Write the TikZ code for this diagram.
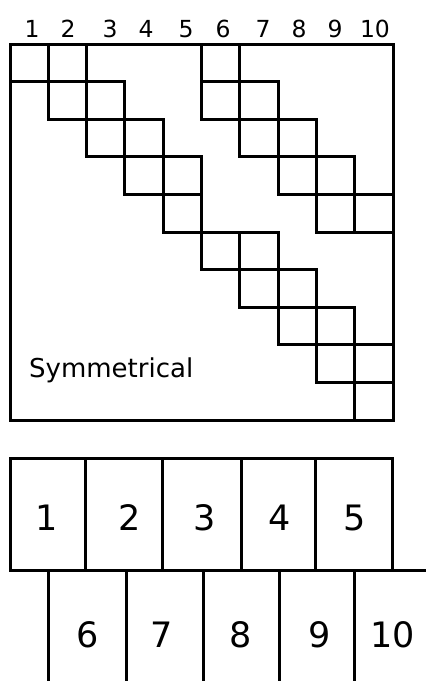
\documentclass[tikz,border=0pt]{standalone}
\usepackage{fontspec}
\setmainfont{DejaVu Sans}
\begin{document}
\begin{tikzpicture}[x=1pt,y=-1pt,
  ln/.style={line width=3pt,line cap=rect,line join=miter},
  toplab/.style={anchor=base,inner sep=0pt,font=\fontsize{23.5}{25}\selectfont},
  biglab/.style={anchor=base,inner sep=0pt,font=\fontsize{35}{37}\selectfont}]
\useasboundingbox (0,0) rectangle (426,681);
% column numbers
\foreach \n/\xx in {1/32,2/68,3/110,4/146,5/186,6/223,7/263,8/299,9/335,10/375}
  \node[toplab] (c\n) at (\xx,37) {\n};
\begin{scope}[shift={(10,44)},x=38.3pt,y=-37.6pt]
  \draw[ln] (0,0) rectangle (10,10);
  % left band
  \draw[ln] (0,1) -- (3,1);
  \draw[ln] (1,0) -- (1,2);
  \draw[ln] (2,0) -- (2,3);
  \draw[ln] (1,2) -- (4,2);
  \draw[ln] (3,1) -- (3,4);
  \draw[ln] (2,3) -- (5,3);
  \draw[ln] (4,2) -- (4,5);
  \draw[ln] (3,4) -- (5,4);
  \draw[ln] (5,3) -- (5,6);
  \draw[ln] (4,5) -- (7,5);
  \draw[ln] (6,5) -- (6,7);
  \draw[ln] (5,6) -- (8,6);
  \draw[ln] (7,5) -- (7,8);
  \draw[ln] (6,7) -- (9,7);
  \draw[ln] (8,6) -- (8,9);
  \draw[ln] (7,8) -- (10,8);
  \draw[ln] (9,7) -- (9,10);
  \draw[ln] (8,9) -- (10,9);
  % right band
  \draw[ln] (5,0) -- (5,2);
  \draw[ln] (6,0) -- (6,3);
  \draw[ln] (5,1) -- (7,1);
  \draw[ln] (5,2) -- (8,2);
  \draw[ln] (7,1) -- (7,4);
  \draw[ln] (6,3) -- (9,3);
  \draw[ln] (8,2) -- (8,5);
  \draw[ln] (7,4) -- (10,4);
  \draw[ln] (9,3) -- (9,5);
  \draw[ln] (8,5) -- (10,5);
\end{scope}
\node[anchor=base west,inner sep=0pt,font=\fontsize{26}{28}\selectfont] (sym) at (29,377) {Symmetrical};
% bottom figure: upper row of elements
\draw[ln] (10,458) rectangle (392,570);
\draw[ln] (392,570) -- (426,570);
\foreach \xx in {85,162,241,315}
  \draw[ln] (\xx,458) -- (\xx,570);
\foreach \n/\xx in {1/47,2/130,3/205,4/280,5/355}
  \node[biglab] (e\n) at (\xx,530) {\n};
% lower row of elements
\foreach \xx in {48,126,203,279,354}
  \draw[ln] (\xx,570) -- (\xx,685);
\foreach \n/\xx in {6/88,7/162,8/241,9/320,10/393}
  \node[biglab] (e\n) at (\xx,647) {\n};
\end{tikzpicture}
\end{document}
